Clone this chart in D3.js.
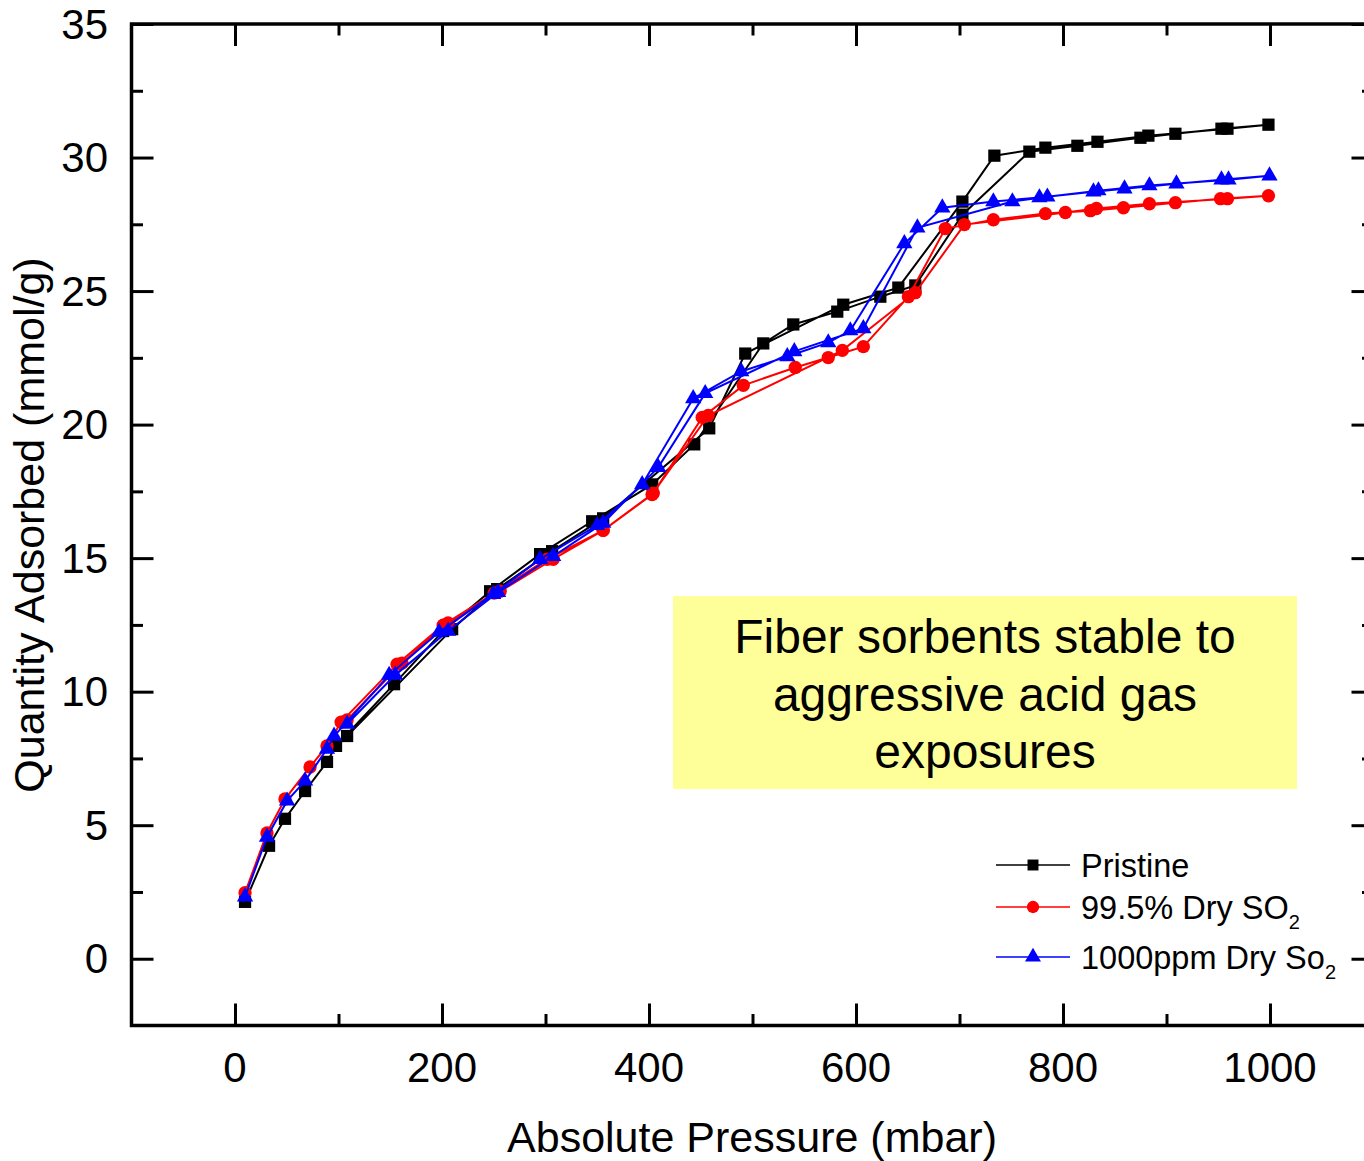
<!DOCTYPE html>
<html>
<head>
<meta charset="utf-8">
<script src="https://cdn.jsdelivr.net/npm/d3@7"></script>
<style>
  html, body { margin: 0; padding: 0; background: #fff; overflow: hidden; }
  svg { display: block; font-family: "Liberation Sans", Arial, sans-serif; }
</style>
</head>
<body>
<svg id="chart" width="1364" height="1161"></svg>
<script>
// Isotherm data: [absolute pressure (mbar), quantity adsorbed (mmol/g)],
// adsorption branch followed by the desorption branch.
const pristine = [
  [9.7, 2.13], [32.9, 4.23], [48.3, 5.24], [67.7, 6.28], [88.9, 7.37], [97.6, 7.97],
  [153.7, 10.28], [201.1, 12.27], [246.5, 13.76], [294.8, 15.15], [345.1, 16.38],
  [403.1, 17.76], [443.7, 19.26], [510.4, 23.04], [539.4, 23.75], [581.9, 24.23],
  [623.5, 24.79], [657.3, 25.21], [702.8, 27.86], [767.5, 30.22], [813.9, 30.44],
  [874.8, 30.74], [908.6, 30.89], [953.1, 31.08], [998.5, 31.23],
  [958.9, 31.08], [882.5, 30.82], [833.3, 30.59], [783.0, 30.37], [733.7, 30.07],
  [702.8, 28.35], [640.9, 25.13], [587.7, 24.49], [493.0, 22.66], [458.2, 19.86],
  [355.7, 16.49], [306.4, 15.26], [253.3, 13.84], [209.8, 12.34], [108.3, 8.34]
];
const so2Pure = [
  [9.7, 2.47], [30.9, 4.71], [48.3, 5.98], [72.5, 7.18], [88.9, 7.97], [102.5, 8.86],
  [156.6, 11.03], [201.1, 12.49], [250.4, 13.69], [301.6, 14.96], [355.7, 16.04],
  [404.1, 17.43], [451.4, 20.27], [491.1, 21.47], [541.3, 22.14], [573.2, 22.51],
  [607.1, 22.92], [650.6, 24.79], [686.3, 27.34], [732.7, 27.67], [783.0, 27.90],
  [826.5, 28.01], [858.4, 28.12], [908.6, 28.31], [952.2, 28.46], [998.5, 28.57],
  [958.9, 28.46], [883.5, 28.27], [832.3, 28.09], [802.3, 27.94], [704.7, 27.49],
  [657.3, 24.94], [586.8, 22.78], [457.2, 20.34], [403.0, 17.38], [355.7, 16.04],
  [307.4, 14.96], [256.2, 13.76], [205.9, 12.57], [161.4, 11.07], [108.3, 8.94]
];
const so2Trace = [
  [9.7, 2.32], [30.9, 4.56], [50.3, 5.91], [67.7, 6.66], [88.9, 7.85], [95.7, 8.34],
  [148.9, 10.62], [197.2, 12.23], [249.4, 13.65], [294.8, 14.96], [349.9, 16.23],
  [393.4, 17.76], [442.7, 20.98], [489.1, 21.99], [533.6, 22.55], [573.2, 23.07],
  [594.5, 23.52], [646.7, 26.78], [683.4, 28.12], [732.7, 28.35], [777.2, 28.50],
  [829.4, 28.72], [859.4, 28.83], [909.6, 29.02], [953.1, 29.17], [999.5, 29.32],
  [959.9, 29.17], [883.5, 28.95], [834.2, 28.76], [784.9, 28.53], [751.1, 28.35],
  [659.3, 27.37], [607.1, 23.60], [540.4, 22.74], [454.3, 21.17], [408.9, 18.40],
  [355.7, 16.31], [307.4, 15.07], [254.2, 13.72], [205.9, 12.27], [154.7, 10.62],
  [108.3, 8.79]
];

const xTicks = [0, 200, 400, 600, 800, 1000];
const xMinorTicks = [100, 300, 500, 700, 900];
const yTicks = [0, 5, 10, 15, 20, 25, 30, 35];
const yMinorTicks = [2.5, 7.5, 12.5, 17.5, 22.5, 27.5, 32.5];

const seriesNames = ["Pristine", "99.5% Dry SO", "1000ppm Dry So"];
const seriesSubs = ["", "2", "2"];
const seriesColors = ["#000000", "#ff0000", "#0000ff"];
const seriesSymbols = [d3.symbolSquare, d3.symbolCircle, d3.symbolTriangle];
const seriesData = [pristine, so2Pure, so2Trace];

const noteLines = ["Fiber sorbents stable to", "aggressive acid gas", "exposures"];

const svg = d3.select("#chart");
const plotLeft = 131.5, plotRight = 1373.5, plotTop = 24, plotBottom = 1025.5;

const x = d3.scaleLinear().domain([-100, 1100]).range([plotLeft, plotRight]);
const y = d3.scaleLinear().domain([-2.5, 35]).range([plotBottom, plotTop]);

// Annotation box
const note = svg.append("g");
note.append("rect")
  .attr("x", 673).attr("y", 596).attr("width", 624).attr("height", 193)
  .attr("fill", "#ffff99");
note.selectAll("text").data(noteLines).join("text")
  .attr("x", 985).attr("y", (d, i) => 653 + i * 57.5)
  .attr("text-anchor", "middle")
  .attr("font-size", 48)
  .attr("fill", "#000")
  .text(d => d);

// Axes: ticks pointing inward on all four sides
const majorLen = 22, minorLen = 11.5;
function tickAxis(axisFn, scale, values, len) {
  return axisFn(scale).tickValues(values).tickSize(-len).tickSizeOuter(0).tickFormat("");
}
const axes = svg.append("g").attr("class", "axes");
axes.append("g").attr("transform", `translate(0,${plotBottom})`)
  .call(tickAxis(d3.axisBottom, x, xTicks, majorLen));
axes.append("g").attr("transform", `translate(0,${plotBottom})`)
  .call(tickAxis(d3.axisBottom, x, xMinorTicks, minorLen));
axes.append("g").attr("transform", `translate(0,${plotTop})`)
  .call(tickAxis(d3.axisTop, x, xTicks, majorLen));
axes.append("g").attr("transform", `translate(0,${plotTop})`)
  .call(tickAxis(d3.axisTop, x, xMinorTicks, minorLen));
axes.append("g").attr("transform", `translate(${plotLeft},0)`)
  .call(tickAxis(d3.axisLeft, y, yTicks, majorLen));
axes.append("g").attr("transform", `translate(${plotLeft},0)`)
  .call(tickAxis(d3.axisLeft, y, yMinorTicks, minorLen));
axes.append("g").attr("transform", `translate(${plotRight},0)`)
  .call(tickAxis(d3.axisRight, y, yTicks, majorLen));
axes.append("g").attr("transform", `translate(${plotRight},0)`)
  .call(tickAxis(d3.axisRight, y, yMinorTicks, minorLen));
axes.selectAll(".domain").remove();
axes.selectAll(".tick line").attr("stroke", "#000").attr("stroke-width", 3);

// Frame
svg.append("rect")
  .attr("x", plotLeft).attr("y", plotTop)
  .attr("width", plotRight - plotLeft).attr("height", plotBottom - plotTop)
  .attr("fill", "none").attr("stroke", "#000").attr("stroke-width", 3.5);

// Tick labels
svg.append("g").selectAll("text").data(xTicks).join("text")
  .attr("x", d => x(d)).attr("y", 1082)
  .attr("text-anchor", "middle").attr("font-size", 42)
  .text(d => d);
svg.append("g").selectAll("text").data(yTicks).join("text")
  .attr("x", 108).attr("y", d => y(d) + 14.5)
  .attr("text-anchor", "end").attr("font-size", 42)
  .text(d => d);

// Axis titles
svg.append("text")
  .attr("x", 752).attr("y", 1152)
  .attr("text-anchor", "middle").attr("font-size", 43)
  .text("Absolute Pressure (mbar)");
svg.append("text")
  .attr("transform", "translate(44,525) rotate(-90)")
  .attr("text-anchor", "middle").attr("font-size", 43)
  .text("Quantity Adsorbed (mmol/g)");

// Series
const line = d3.line().x(d => x(d[0])).y(d => y(d[1]));
const markerSizes = [150, 140, 115];
const plot = svg.append("g");
seriesData.forEach((data, i) => {
  const g = plot.append("g");
  g.append("path").datum(data)
    .attr("d", line)
    .attr("fill", "none")
    .attr("stroke", seriesColors[i])
    .attr("stroke-width", 2);
  g.selectAll("path.pt").data(data).join("path")
    .attr("class", "pt")
    .attr("transform", d => `translate(${x(d[0])},${y(d[1])})`)
    .attr("d", d3.symbol().type(seriesSymbols[i]).size(markerSizes[i]))
    .attr("fill", seriesColors[i]);
});

// Legend
const legendY = [865, 907, 957];
const legend = svg.append("g");
seriesNames.forEach((name, i) => {
  const g = legend.append("g");
  g.append("line")
    .attr("x1", 996).attr("x2", 1070)
    .attr("y1", legendY[i]).attr("y2", legendY[i])
    .attr("stroke", seriesColors[i]).attr("stroke-width", 1.6);
  g.append("path")
    .attr("transform", `translate(1033,${legendY[i]})`)
    .attr("d", d3.symbol().type(seriesSymbols[i]).size([120, 120, 110][i]))
    .attr("fill", seriesColors[i]);
  const t = g.append("text")
    .attr("x", 1081).attr("y", legendY[i] + 11.5)
    .attr("font-size", 32.5)
    .text(name);
  if (seriesSubs[i]) {
    t.append("tspan").attr("dy", 10).attr("font-size", 20).text(seriesSubs[i]);
  }
});
</script>
</body>
</html>
